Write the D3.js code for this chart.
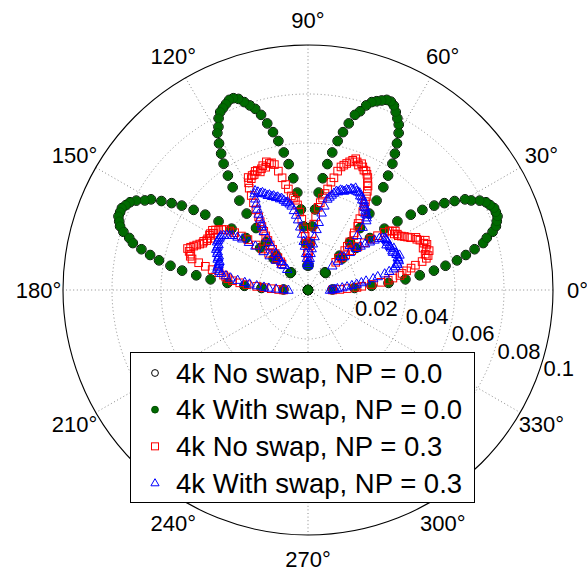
<!DOCTYPE html>
<html>
<head>
<meta charset="utf-8">
<script src="https://cdn.jsdelivr.net/npm/d3@7"></script>
<style>
html, body { margin: 0; padding: 0; background: #fff; }
svg { display: block; font-family: "Liberation Sans", Arial, Helvetica, sans-serif; }
</style>
</head>
<body>
<svg id="chart" width="587" height="573"></svg>
<script>
// sample angles (degrees) of the NP = 0.0 runs
const anglesNP0 = [
	0, 1.25, 2.5, 3.75, 5, 6.25, 7.5, 8.75, 10, 11.25, 12.5, 13.75, 15, 16.25, 17.5, 18.75, 20, 21.25, 22.5, 23.75, 25, 26.25, 27.5, 28.75, 30, 31.25, 32.5, 33.75, 35, 36.25, 37.5, 38.75, 40, 41.25, 42.5, 43.75, 45,
	46.25, 47.5, 48.75, 50, 51.25, 52.5, 53.75, 55, 56.25, 57.5, 58.75, 60, 61.25, 62.5, 63.75, 65, 66.25, 67.5, 68.75, 70, 71.25, 72.5, 73.75, 75, 76.25, 77.5, 78.75, 80, 81.25, 82.5, 83.75, 85, 86.25, 87.5, 88.75, 90,
	91.25, 92.5, 93.75, 95, 96.25, 97.5, 98.75, 100, 101.25, 102.5, 103.75, 105, 106.25, 107.5, 108.75, 110, 111.25, 112.5, 113.75, 115, 116.25, 117.5, 118.75, 120, 121.25, 122.5, 123.75, 125, 126.25, 127.5, 128.75, 130, 131.25, 132.5, 133.75, 135,
	136.25, 137.5, 138.75, 140, 141.25, 142.5, 143.75, 145, 146.25, 147.5, 148.75, 150, 151.25, 152.5, 153.75, 155, 156.25, 157.5, 158.75, 160, 161.25, 162.5, 163.75, 165, 166.25, 167.5, 168.75, 170, 171.25, 172.5, 173.75, 175, 176.25, 177.5, 178.75, 180];

// 4k With swap, NP = 0.0
const withSwap00 = [
	0, .010, .019, .026, .033, .040, .046, .052, .057, .062, .066, .070, .074, .076, .079, .081, .082, .083, .083, .083, .082, .081, .079, .076, .074, .070, .066, .062, .057, .052, .046, .040, .033, .026, .019, .010, 0,
	.010, .019, .026, .033, .040, .046, .052, .057, .062, .066, .070, .074, .077, .079, .081, .083, .084, .084, .083, .082, .081, .079, .076, .074, .070, .066, .062, .057, .052, .046, .040, .033, .026, .019, .010, 0,
	.010, .019, .026, .033, .040, .046, .052, .057, .062, .066, .070, .074, .077, .079, .081, .083, .084, .084, .083, .082, .081, .079, .076, .074, .070, .066, .062, .057, .052, .046, .040, .033, .026, .019, .010, 0,
	.010, .019, .026, .033, .040, .046, .052, .057, .062, .066, .070, .074, .076, .079, .081, .082, .083, .083, .083, .082, .081, .079, .076, .074, .070, .066, .062, .057, .052, .046, .040, .033, .026, .019, .010, 0];

// 4k No swap, NP = 0.0 (sits exactly under the filled markers)
const noSwap00 = withSwap00.slice();

// sample angles (degrees) of the NP = 0.3 runs
const anglesNP3 = [
	0, 1, 2, 3, 4, 5, 6, 7, 8, 9, 10, 11, 12, 13, 14, 15, 16, 17, 18, 19, 20, 21, 22, 23, 24, 25, 26, 27, 28, 29, 30, 31, 32, 33, 34, 35, 36, 37, 38, 39, 40, 41, 42, 43, 44, 45,
	46, 47, 48, 49, 50, 51, 52, 53, 54, 55, 56, 57, 58, 59, 60, 61, 62, 63, 64, 65, 66, 67, 68, 69, 70, 71, 72, 73, 74, 75, 76, 77, 78, 79, 80, 81, 82, 83, 84, 85, 86, 87, 88, 89, 90,
	91, 92, 93, 94, 95, 96, 97, 98, 99, 100, 101, 102, 103, 104, 105, 106, 107, 108, 109, 110, 111, 112, 113, 114, 115, 116, 117, 118, 119, 120, 121, 122, 123, 124, 125, 126, 127, 128, 129, 130, 131, 132, 133, 134, 135,
	136, 137, 138, 139, 140, 141, 142, 143, 144, 145, 146, 147, 148, 149, 150, 151, 152, 153, 154, 155, 156, 157, 158, 159, 160, 161, 162, 163, 164, 165, 166, 167, 168, 169, 170, 171, 172, 173, 174, 175, 176, 177, 178, 179, 180];

// 4k No swap, NP = 0.3
const noSwap03 = [
	.010, .013, .016, .020, .022, .026, .030, .033, .035, .038, .039, .041, .043, .045, .048, .050, .051, .050, .052, .051, .050, .052, .051, .052, .050, .049, .049, .047, .046, .045, .044, .043, .043, .042, .043, .042, .041, .039, .036, .033, .030, .027, .024, .021, .019, .016,
	.018, .022, .024, .026, .029, .030, .033, .034, .036, .039, .041, .043, .045, .047, .049, .050, .052, .053, .054, .054, .055, .056, .055, .056, .057, .056, .055, .054, .053, .052, .050, .047, .045, .042, .040, .038, .036, .034, .030, .027, .023, .020, .018, .015, .013,
	.015, .019, .022, .025, .029, .032, .035, .037, .038, .039, .042, .044, .047, .050, .053, .054, .054, .055, .053, .054, .053, .052, .053, .053, .052, .052, .051, .052, .050, .048, .045, .042, .039, .036, .034, .032, .030, .028, .026, .024, .022, .020, .018, .016, .015,
	.018, .022, .025, .028, .032, .035, .038, .040, .042, .043, .044, .045, .046, .045, .046, .046, .045, .046, .046, .047, .047, .048, .049, .050, .051, .052, .051, .050, .050, .049, .046, .043, .040, .037, .035, .034, .033, .031, .028, .025, .021, .018, .015, .012, .010];

// 4k With swap, NP = 0.3
const withSwap03 = [
	.009, .010, .011, .012, .014, .016, .018, .020, .022, .024, .027, .029, .032, .034, .036, .037, .038, .038, .039, .039, .039, .040, .039, .039, .038, .038, .039, .038, .038, .038, .037, .038, .038, .038, .038, .037, .036, .034, .032, .030, .028, .026, .023, .020, .017, .014,
	.019, .025, .030, .034, .037, .038, .039, .039, .040, .041, .041, .042, .043, .043, .044, .044, .045, .045, .045, .046, .045, .045, .044, .044, .043, .043, .043, .042, .042, .041, .040, .039, .038, .035, .032, .028, .025, .022, .019, .017, .015, .013, .012, .011, .010,
	.011, .013, .015, .018, .020, .023, .026, .029, .031, .033, .035, .036, .037, .037, .038, .039, .039, .040, .040, .041, .041, .042, .042, .043, .044, .044, .045, .046, .045, .043, .041, .039, .037, .035, .033, .032, .030, .027, .025, .023, .020, .018, .016, .014, .012,
	.015, .018, .021, .024, .028, .031, .034, .036, .038, .039, .040, .041, .042, .042, .042, .042, .042, .041, .041, .041, .041, .040, .040, .039, .039, .039, .038, .038, .038, .038, .038, .038, .037, .036, .034, .032, .029, .026, .024, .021, .018, .016, .013, .010, .008];

const rTicks = [0.02, 0.04, 0.06, 0.08, 0.1];
const rTickLabels = ["0.02", "0.04", "0.06", "0.08", "0.1"];
const angleTicks = [0, 30, 60, 90, 120, 150, 180, 210, 240, 270, 300, 330];
const legendLabels = ["4k No swap, NP = 0.0", "4k With swap, NP = 0.0", "4k No swap, NP = 0.3", "4k With swap, NP = 0.3"];

const svg = d3.select("#chart");
const cx = 308, cy = 290, R = 245;
const rScale = d3.scaleLinear().domain([0, 0.1]).range([0, R]);
const toRad = (d) => (d * Math.PI) / 180;
const px = (deg, v) => cx + rScale(v) * Math.cos(toRad(deg));
const py = (deg, v) => cy - rScale(v) * Math.sin(toRad(deg));

const grid = svg.append("g");

// spokes
grid.selectAll(".spoke")
	.data(angleTicks.slice(0, 6))
	.join("line")
	.attr("x1", (d) => px(d, 0.1))
	.attr("y1", (d) => py(d, 0.1))
	.attr("x2", (d) => px(d + 180, 0.1))
	.attr("y2", (d) => py(d + 180, 0.1))
	.attr("stroke", "#8a8a8a")
	.attr("stroke-width", 1)
	.attr("stroke-dasharray", "1,2.6");

// rings
grid.selectAll(".ring")
	.data(rTicks.slice(0, -1))
	.join("circle")
	.attr("cx", cx)
	.attr("cy", cy)
	.attr("r", (d) => rScale(d))
	.attr("fill", "none")
	.attr("stroke", "#8a8a8a")
	.attr("stroke-width", 1)
	.attr("stroke-dasharray", "1,2.6");

grid.append("circle")
	.attr("cx", cx)
	.attr("cy", cy)
	.attr("r", rScale(0.1))
	.attr("fill", "none")
	.attr("stroke", "#000")
	.attr("stroke-width", 1.1);

// angle labels
grid.selectAll(".alabel")
	.data(angleTicks)
	.join("text")
	.attr("x", (d) => px(d, 0.11))
	.attr("y", (d) => py(d, 0.11))
	.attr("text-anchor", "middle")
	.attr("dominant-baseline", "central")
	.attr("font-size", 22)
	.text((d) => `${d}°`);

// radial labels, along a line just below 0 deg
const labelAngle = -20.5;
grid.selectAll(".rlabel")
	.data(rTicks)
	.join("text")
	.attr("x", (d, i) => px(labelAngle, d) + (i === 0 ? 1 : 6))
	.attr("y", (d, i) => py(labelAngle, d) + (i === 0 ? 9 : 0))
	.attr("font-size", 22)
	.text((d, i) => rTickLabels[i]);

// data
const pts = (vals, angs) => vals.map((v, i) => ({ x: px(angs[i], v), y: py(angs[i], v) }));

const marks = svg.append("g");

marks.selectAll(".c0")
	.data(pts(noSwap00, anglesNP0))
	.join("circle")
	.attr("cx", (d) => d.x)
	.attr("cy", (d) => d.y)
	.attr("r", 4.8)
	.attr("fill", "none")
	.attr("stroke", "#000")
	.attr("stroke-width", 1);

marks.selectAll(".c1")
	.data(pts(withSwap00, anglesNP0))
	.join("circle")
	.attr("cx", (d) => d.x)
	.attr("cy", (d) => d.y)
	.attr("r", 4.4)
	.attr("fill", "#006a00")
	.attr("stroke", "#004c00")
	.attr("stroke-width", 0.6);

marks.selectAll(".sq")
	.data(pts(noSwap03, anglesNP3))
	.join("rect")
	.attr("x", (d) => d.x - 3.8)
	.attr("y", (d) => d.y - 3.8)
	.attr("width", 7.6)
	.attr("height", 7.6)
	.attr("fill", "none")
	.attr("stroke", "#ff0000")
	.attr("stroke-width", 1);

const tri = (x, y, s) => `M${x},${y - s}L${x + s * 0.95},${y + s * 0.65}L${x - s * 0.95},${y + s * 0.65}Z`;

marks.selectAll(".tr")
	.data(pts(withSwap03, anglesNP3))
	.join("path")
	.attr("d", (d) => tri(d.x, d.y, 5))
	.attr("fill", "none")
	.attr("stroke", "#0000ff")
	.attr("stroke-width", 1);

// legend
const lg = svg.append("g");
lg.append("rect")
	.attr("x", 130.5)
	.attr("y", 352.5)
	.attr("width", 344)
	.attr("height", 150)
	.attr("fill", "#fff")
	.attr("stroke", "#000")
	.attr("stroke-width", 1);

const rowY = d3.scaleLinear().domain([0, 3]).range([373, 483]);
const mx = 155;

lg.append("circle").attr("cx", mx).attr("cy", rowY(0)).attr("r", 3.4)
	.attr("fill", "none").attr("stroke", "#000");
lg.append("circle").attr("cx", mx).attr("cy", rowY(1)).attr("r", 3.4)
	.attr("fill", "#006a00").attr("stroke", "#004c00");
lg.append("rect").attr("x", mx - 3.5).attr("y", rowY(2) - 3.5).attr("width", 7).attr("height", 7)
	.attr("fill", "none").attr("stroke", "#ff0000");
lg.append("path").attr("d", tri(mx, rowY(3), 4.3))
	.attr("fill", "none").attr("stroke", "#0000ff");

lg.selectAll(".ltext")
	.data(legendLabels)
	.join("text")
	.attr("x", 176)
	.attr("y", (d, i) => rowY(i) + 9.8)
	.attr("font-size", 27.5)
	.text((d) => d);
</script>
</body>
</html>
